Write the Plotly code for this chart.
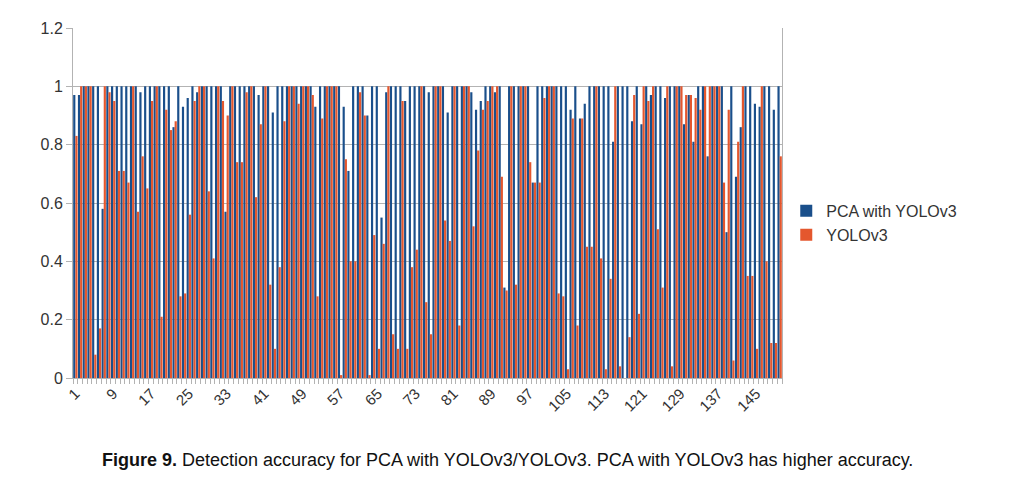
"""Detection accuracy per test image: PCA with YOLOv3 vs YOLOv3."""
import plotly.graph_objects as go

# test image index 1..150
categories = list(range(1, 151))
tick_labels = list(range(1, 151, 8))

pca_yolo = [
    0.97, 0.97, 1.00, 1.00, 1.00, 1.00, 0.58, 1.00, 1.00, 1.00,
    1.00, 1.00, 1.00, 1.00, 0.98, 1.00, 1.00, 1.00, 1.00, 1.00,
    1.00, 0.86, 1.00, 0.93, 0.96, 1.00, 0.98, 1.00, 1.00, 1.00,
    1.00, 1.00, 0.57, 1.00, 1.00, 1.00, 1.00, 1.00, 1.00, 0.97,
    1.00, 1.00, 0.91, 1.00, 1.00, 1.00, 1.00, 1.00, 1.00, 1.00,
    1.00, 0.93, 1.00, 1.00, 1.00, 1.00, 1.00, 0.93, 0.71, 1.00,
    1.00, 1.00, 0.90, 1.00, 1.00, 0.55, 0.98, 1.00, 1.00, 1.00,
    0.95, 1.00, 1.00, 1.00, 1.00, 0.98, 1.00, 1.00, 1.00, 0.91,
    1.00, 1.00, 1.00, 1.00, 0.98, 0.92, 0.95, 1.00, 1.00, 0.98,
    1.00, 0.31, 1.00, 1.00, 1.00, 1.00, 1.00, 0.67, 1.00, 1.00,
    1.00, 1.00, 1.00, 1.00, 1.00, 0.92, 1.00, 0.89, 0.94, 1.00,
    1.00, 1.00, 1.00, 1.00, 0.81, 1.00, 1.00, 1.00, 0.88, 1.00,
    0.87, 1.00, 0.97, 1.00, 1.00, 0.96, 1.00, 1.00, 1.00, 0.87,
    0.97, 0.81, 1.00, 1.00, 0.76, 1.00, 1.00, 1.00, 0.50, 1.00,
    0.69, 0.86, 1.00, 1.00, 0.94, 0.93, 1.00, 1.00, 0.92, 1.00,
]

yolo = [
    0.83, 1.00, 1.00, 1.00, 0.08, 0.17, 1.00, 0.98, 0.95, 0.71,
    0.71, 0.67, 1.00, 0.57, 0.76, 0.65, 0.95, 1.00, 0.21, 0.92,
    0.85, 0.88, 0.28, 0.29, 0.56, 0.95, 1.00, 1.00, 0.64, 0.41,
    1.00, 0.95, 0.90, 1.00, 0.74, 0.74, 0.98, 1.00, 0.62, 0.87,
    1.00, 0.32, 0.10, 0.38, 0.88, 1.00, 1.00, 0.94, 1.00, 1.00,
    0.97, 0.28, 0.89, 1.00, 1.00, 1.00, 0.01, 0.75, 0.40, 0.40,
    0.98, 0.90, 0.01, 0.49, 0.10, 0.46, 1.00, 0.15, 0.10, 0.95,
    0.10, 0.38, 0.44, 1.00, 0.26, 0.15, 1.00, 1.00, 0.54, 0.47,
    1.00, 0.18, 1.00, 1.00, 0.52, 0.78, 0.92, 0.95, 1.00, 1.00,
    0.69, 0.30, 1.00, 0.32, 1.00, 1.00, 0.74, 0.67, 0.67, 0.96,
    1.00, 1.00, 0.29, 0.28, 0.03, 0.89, 0.18, 0.89, 0.45, 0.45,
    1.00, 0.41, 0.03, 0.34, 1.00, 0.04, 0.00, 0.14, 0.97, 0.22,
    1.00, 0.95, 1.00, 0.51, 0.31, 1.00, 0.04, 1.00, 1.00, 0.97,
    0.97, 0.96, 0.92, 1.00, 1.00, 1.00, 1.00, 0.67, 0.92, 0.06,
    0.81, 1.00, 0.35, 0.35, 0.10, 1.00, 0.40, 0.12, 0.12, 0.76,
]

NAVY = '#1a4f8b'
ORANGE = '#e4572e'
TEXT = '#333333'
GRID = '#b3b3b3'

fig = go.Figure()
fig.add_trace(go.Bar(x=categories, y=pca_yolo, name='PCA with YOLOv3',
                     marker=dict(color=NAVY, line=dict(width=0))))
fig.add_trace(go.Bar(x=categories, y=yolo, name='YOLOv3',
                     marker=dict(color=ORANGE, line=dict(width=0))))

# the page body adds an 8px offset, so margins are trimmed by 8px
fig.update_layout(
    width=1021, height=485,
    margin=dict(l=65, r=247, t=20, b=115),
    paper_bgcolor='white', plot_bgcolor='white',
    barmode='group', bargap=0.08, bargroupgap=0,
    font=dict(family='Liberation Sans, Arial, sans-serif', color=TEXT, size=15),
    legend=dict(x=1.006, y=0.443, xanchor='left', yanchor='middle',
                font=dict(size=16, color=TEXT), itemwidth=30,
                tracegroupgap=0, bgcolor='rgba(0,0,0,0)'),
    xaxis=dict(
        range=[0.5, 150.5], tickmode='array', tickvals=tick_labels,
        ticktext=[str(t) for t in tick_labels], tickangle=-45,
        ticks='', showgrid=False, showline=True, linecolor=GRID,
        tickfont=dict(size=15, color=TEXT),
        minor=dict(tick0=0.5, dtick=1, ticks='outside', ticklen=5,
                   tickcolor=GRID, showgrid=False),
    ),
    yaxis=dict(
        range=[0, 1.2], dtick=0.2, tickformat='~g',
        showgrid=True, gridcolor=GRID, gridwidth=1,
        showline=True, linecolor=GRID, mirror=True,
        ticks='outside', ticklen=6, tickcolor=GRID,
        tickfont=dict(size=16, color=TEXT), zeroline=False,
    ),
)

fig.add_annotation(
    text='<b>Figure 9.</b> Detection accuracy for PCA with YOLOv3/YOLOv3. '
         'PCA with YOLOv3 has higher accuracy.',
    xref='paper', yref='paper', x=0.6135, y=-0.234,
    xanchor='center', yanchor='middle', showarrow=False,
    font=dict(family='Liberation Sans Narrow, Liberation Sans, Arial',
              size=18, color='#111111'),
)

fig.write_html("out.html")
